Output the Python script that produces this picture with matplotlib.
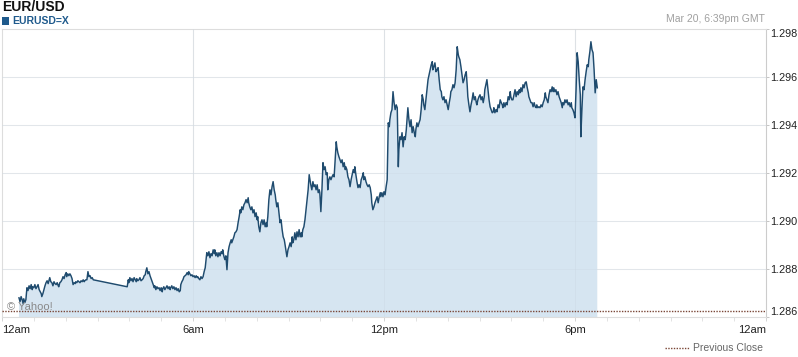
import matplotlib
matplotlib.use("Agg")
import matplotlib.pyplot as plt

plt.rcParams['font.family'] = ['Liberation Sans', 'DejaVu Sans']

title = "EUR/USD"
symbol = "EURUSD=X"
stamp = "Mar 20, 6:39pm GMT"
prev_close = 1.28626
y_ticks = [1.286, 1.288, 1.290, 1.292, 1.294, 1.296, 1.298]
y_labels = ["1.286", "1.288", "1.290", "1.292", "1.294", "1.296", "1.298"]
x_ticks = [0, 360, 720, 1080, 1440]
x_labels = ["12am", "6am", "12pm", "6pm", "12am"]

# minutes after midnight (GMT)
minutes = [
    32, 34, 36, 38, 40, 41, 43, 45, 47, 49, 51, 53, 55, 57, 58, 60, 62, 64, 66, 68,
    70, 72, 74, 75, 77, 79, 81, 83, 85, 87, 89, 90, 92, 94, 96, 98, 100, 102, 104, 106,
    107, 109, 111, 113, 115, 117, 119, 121, 122, 124, 126, 128, 130, 132, 134, 136, 138, 139, 141, 143,
    145, 147, 149, 151, 153, 155, 156, 158, 160, 162, 164, 166, 168, 170, 172,
    236, 238, 239, 241, 243, 245, 247, 249, 251, 253,
    254, 256, 258, 260, 262, 264, 266, 268, 270, 271,
    273, 275, 277, 279, 281, 283, 285, 287, 288, 290,
    292, 294, 296, 298, 300, 302, 303, 305, 307, 309,
    311, 313, 315, 317, 318, 320, 322, 324, 326, 328,
    330, 332, 334, 336, 337, 339, 341, 343, 345, 347,
    349, 351, 352, 354, 356, 358, 360, 362, 364, 366,
    368, 369, 371, 373, 375, 377, 379, 381, 383, 385,
    386, 388, 390, 392, 394, 396, 398, 400, 401, 403,
    405, 407, 409, 411, 413, 415, 416, 418, 420, 422,
    424, 426, 428, 430, 432, 433, 435, 437, 439, 441,
    443, 445, 447, 449, 450, 452, 454, 456, 458, 460,
    462, 464, 465, 467, 469, 471, 473, 475, 477, 479,
    481, 482, 484, 486, 488, 490, 492, 494, 496, 498,
    499, 501, 503, 505, 507, 509, 511, 513, 515, 516,
    518, 520, 522, 524, 526, 528, 530, 532, 533, 535,
    537, 539, 541, 543, 545, 547, 548, 550, 552, 554,
    556, 558, 560, 562, 564, 565, 567, 569, 571, 573,
    575, 577, 579, 581, 582, 584, 586, 588, 590, 592,
    594, 596, 598, 599, 601, 603, 605, 607, 609, 611,
    613, 614, 616, 618, 620, 622, 624, 626, 628, 630,
    631, 633, 635, 637, 639, 641, 643, 645, 647, 648,
    650, 652, 654, 656, 658, 660, 662, 664, 665, 667,
    669, 671, 673, 675, 677, 679, 681, 682, 684, 686,
    688, 690, 692, 694, 696, 697, 699, 701, 703, 705,
    707, 709, 711, 713, 714, 716, 718, 720, 722, 724,
    726, 728, 730, 731, 733, 735, 737, 739, 741, 743,
    745, 747, 748, 750, 752, 754, 756, 758, 760, 762,
    763, 765, 767, 769, 771, 773, 775, 777, 779, 780,
    782, 784, 786, 788, 790, 792, 794, 795, 797, 799,
    801, 803, 805, 807, 809, 811, 812, 814, 816, 818,
    820, 822, 824, 826, 828, 829, 831, 833, 835, 837,
    839, 841, 843, 845, 846, 848, 850, 852, 854, 856,
    858, 860, 861, 863, 865, 867, 869, 871, 873, 875,
    877, 878, 880, 882, 884, 886, 888, 890, 892, 894,
    895, 897, 899, 901, 903, 905, 907, 909, 910, 912,
    914, 916, 918, 920, 922, 924, 926, 927, 929, 931,
    933, 935, 937, 939, 941, 943, 944, 946, 948, 950,
    952, 954, 956, 958, 959, 961, 963, 965, 967, 969,
    971, 973, 975, 976, 978, 980, 982, 984, 986, 988,
    990, 992, 993, 995, 997, 999, 1001, 1003, 1005, 1007,
    1008, 1010, 1012, 1014, 1016, 1018, 1020, 1022, 1024, 1025,
    1027, 1029, 1031, 1033, 1035, 1037, 1039, 1040, 1042, 1044,
    1046, 1048, 1050, 1052, 1054, 1056, 1057, 1059, 1061, 1063,
    1065, 1067, 1069, 1071, 1073, 1074, 1076, 1078, 1080, 1082,
    1084, 1086, 1088, 1090, 1091, 1093, 1095, 1097, 1099, 1101,
    1103, 1105, 1106, 1108, 1110, 1112, 1114, 1116, 1118, 1120,
    1122,
]

prices = [
    1.28680, 1.28664, 1.28685, 1.28672, 1.28655, 1.28676, 1.28660, 1.28672, 1.28722, 1.28710,
    1.28730, 1.28718, 1.28735, 1.28714, 1.28726, 1.28722, 1.28735, 1.28718, 1.28726, 1.28735,
    1.28714, 1.28705, 1.28697, 1.28685, 1.28697, 1.28714, 1.28730, 1.28743, 1.28751, 1.28739,
    1.28755, 1.28764, 1.28747, 1.28743, 1.28730, 1.28747, 1.28739, 1.28735, 1.28743, 1.28730,
    1.28726, 1.28743, 1.28747, 1.28755, 1.28768, 1.28760, 1.28776, 1.28785, 1.28768, 1.28780,
    1.28772, 1.28780, 1.28772, 1.28760, 1.28735, 1.28743, 1.28739, 1.28747, 1.28743, 1.28751,
    1.28747, 1.28743, 1.28751, 1.28747, 1.28755, 1.28747, 1.28751, 1.28755, 1.28755, 1.28789,
    1.28768, 1.28772, 1.28760, 1.28764, 1.28755,
    1.28726, 1.28755, 1.28743, 1.28764, 1.28751, 1.28760, 1.28747, 1.28764, 1.28755, 1.28747,
    1.28760, 1.28751, 1.28755, 1.28764, 1.28751, 1.28755, 1.28760, 1.28772, 1.28776, 1.28789,
    1.28805, 1.28780, 1.28789, 1.28772, 1.28760, 1.28747, 1.28735, 1.28722, 1.28730, 1.28714,
    1.28726, 1.28718, 1.28722, 1.28710, 1.28722, 1.28705, 1.28718, 1.28726, 1.28714, 1.28722,
    1.28730, 1.28718, 1.28726, 1.28714, 1.28722, 1.28730, 1.28718, 1.28726, 1.28714, 1.28722,
    1.28710, 1.28718, 1.28705, 1.28710, 1.28735, 1.28747, 1.28755, 1.28768, 1.28772, 1.28776,
    1.28785, 1.28776, 1.28789, 1.28780, 1.28772, 1.28776, 1.28768, 1.28772, 1.28764, 1.28772,
    1.28764, 1.28768, 1.28760, 1.28755, 1.28768, 1.28760, 1.28768, 1.28789, 1.28805, 1.28847,
    1.28868, 1.28855, 1.28872, 1.28847, 1.28864, 1.28855, 1.28880, 1.28864, 1.28880, 1.28855,
    1.28868, 1.28851, 1.28868, 1.28855, 1.28872, 1.28864, 1.28880, 1.28855, 1.28839, 1.28855,
    1.28797, 1.28868, 1.28893, 1.28909, 1.28922, 1.28909, 1.28922, 1.28934, 1.28951, 1.28955,
    1.28964, 1.28993, 1.29018, 1.29047, 1.29034, 1.29059, 1.29047, 1.29068, 1.29076, 1.29089,
    1.29076, 1.29097, 1.29076, 1.29059, 1.29047, 1.29059, 1.29034, 1.29047, 1.29018, 1.29034,
    1.29005, 1.29018, 1.28976, 1.28955, 1.28993, 1.29005, 1.28985, 1.29005, 1.28976, 1.28993,
    1.28976, 1.29018, 1.29089, 1.29130, 1.29109, 1.29143, 1.29164, 1.29130, 1.29109, 1.29089,
    1.29059, 1.29076, 1.29034, 1.28993, 1.29005, 1.28964, 1.28934, 1.28922, 1.28909, 1.28880,
    1.28851, 1.28880, 1.28893, 1.28909, 1.28893, 1.28934, 1.28909, 1.28922, 1.28951, 1.28922,
    1.28955, 1.28934, 1.28964, 1.28934, 1.28951, 1.28934, 1.28964, 1.28976, 1.29005, 1.29047,
    1.29089, 1.29130, 1.29193, 1.29164, 1.29151, 1.29130, 1.29164, 1.29143, 1.29151, 1.29130,
    1.29151, 1.29118, 1.29130, 1.29118, 1.29039, 1.29130, 1.29243, 1.29214, 1.29226, 1.29193,
    1.29201, 1.29130, 1.29172, 1.29184, 1.29172, 1.29184, 1.29193, 1.29184, 1.29255, 1.29330,
    1.29309, 1.29284, 1.29268, 1.29255, 1.29243, 1.29255, 1.29226, 1.29243, 1.29214, 1.29226,
    1.29214, 1.29184, 1.29172, 1.29143, 1.29172, 1.29193, 1.29214, 1.29201, 1.29226, 1.29193,
    1.29164, 1.29139, 1.29151, 1.29139, 1.29172, 1.29184, 1.29201, 1.29172, 1.29184, 1.29164,
    1.29151, 1.29143, 1.29151, 1.29139, 1.29109, 1.29076, 1.29047, 1.29059, 1.29076, 1.29089,
    1.29101, 1.29076, 1.29101, 1.29118, 1.29101, 1.29118, 1.29101, 1.29122, 1.29109, 1.29143,
    1.29172, 1.29409, 1.29393, 1.29422, 1.29451, 1.29464, 1.29539, 1.29493, 1.29464, 1.29484,
    1.29472, 1.29226, 1.29297, 1.29351, 1.29339, 1.29368, 1.29309, 1.29351, 1.29339, 1.29380,
    1.29409, 1.29472, 1.29422, 1.29393, 1.29422, 1.29368, 1.29393, 1.29368, 1.29351, 1.29380,
    1.29409, 1.29393, 1.29409, 1.29422, 1.29464, 1.29526, 1.29505, 1.29484, 1.29464, 1.29505,
    1.29547, 1.29589, 1.29610, 1.29630, 1.29651, 1.29664, 1.29630, 1.29643, 1.29659, 1.29622,
    1.29630, 1.29639, 1.29589, 1.29547, 1.29539, 1.29518, 1.29505, 1.29518, 1.29493, 1.29505,
    1.29484, 1.29464, 1.29493, 1.29518, 1.29539, 1.29547, 1.29568, 1.29555, 1.29576, 1.29630,
    1.29726, 1.29693, 1.29684, 1.29672, 1.29643, 1.29610, 1.29576, 1.29589, 1.29610, 1.29622,
    1.29559, 1.29518, 1.29484, 1.29455, 1.29484, 1.29505, 1.29534, 1.29505, 1.29518, 1.29493,
    1.29484, 1.29505, 1.29518, 1.29526, 1.29505, 1.29518, 1.29493, 1.29518, 1.29547, 1.29568,
    1.29589, 1.29547, 1.29505, 1.29476, 1.29464, 1.29451, 1.29455, 1.29472, 1.29451, 1.29464,
    1.29455, 1.29484, 1.29472, 1.29505, 1.29493, 1.29484, 1.29472, 1.29493, 1.29476, 1.29493,
    1.29484, 1.29518, 1.29505, 1.29539, 1.29518, 1.29505, 1.29505, 1.29526, 1.29547, 1.29518,
    1.29539, 1.29526, 1.29547, 1.29534, 1.29555, 1.29539, 1.29568, 1.29555, 1.29576, 1.29580,
    1.29555, 1.29534, 1.29518, 1.29505, 1.29493, 1.29493, 1.29476, 1.29493, 1.29476, 1.29472,
    1.29484, 1.29472, 1.29476, 1.29472, 1.29484, 1.29476, 1.29493, 1.29505, 1.29534, 1.29518,
    1.29505, 1.29493, 1.29526, 1.29547, 1.29539, 1.29559, 1.29539, 1.29555, 1.29539, 1.29547,
    1.29526, 1.29539, 1.29518, 1.29505, 1.29493, 1.29472, 1.29493, 1.29484, 1.29505, 1.29493,
    1.29505, 1.29484, 1.29493, 1.29476, 1.29493, 1.29472, 1.29464, 1.29451, 1.29430, 1.29547,
    1.29701, 1.29664, 1.29589, 1.29526, 1.29351, 1.29464, 1.29559, 1.29547, 1.29589, 1.29622,
    1.29651, 1.29643, 1.29672, 1.29705, 1.29747, 1.29714, 1.29701, 1.29630, 1.29534, 1.29589,
    1.29555,
]

W, H = 798, 357
fig = plt.figure(figsize=(W / 100, H / 100), dpi=100)
fig.patch.set_facecolor('white')

# plot area in pixels: x 2..766, y 29..317
ax = fig.add_axes([2 / W, 1 - 317 / H, 764 / W, 288 / H])
ax.set_xlim(0, 1440)
ax.set_ylim(1.286, 1.298)

line_color = '#1f4b6e'
fill_color = '#d6e5f1'
close_color = '#7a4636'

ax.fill_between(minutes, prices, 1.280, color=fill_color, lw=0, zorder=2)
ax.plot(minutes, prices, color=line_color, lw=1.05, zorder=4)
ax.axhline(prev_close, color=close_color, lw=1.0, ls=(0, (1, 1)), zorder=5)

# grid
for yv in y_ticks[1:-1]:
    ax.axhline(yv, color='#eeeeee', lw=0.8, zorder=1)
    ax.axhline(yv, color='#cbd9e5', lw=0.6, zorder=3, alpha=0.4)
for xv in x_ticks[1:-1]:
    ax.axvline(xv, color='#e8e8e8', lw=0.8, zorder=1)
    ax.axvline(xv, color='#c9d6e2', lw=0.6, zorder=3, alpha=0.4)

for s in ['top', 'left', 'bottom']:
    ax.spines[s].set_color('#dddddd')
    ax.spines[s].set_linewidth(0.8)
ax.spines['right'].set_color('#cccccc')
ax.spines['right'].set_linewidth(0.8)

ax.yaxis.tick_right()
ax.set_yticks(y_ticks)
ax.set_yticklabels(y_labels)
ax.tick_params(axis='y', length=2.5, width=0.6, color='#bbbbbb', pad=0.6,
               labelsize=7.8, labelcolor='#222222')
ylabs = ax.get_yticklabels()
ylabs[0].set_va('bottom')
ylabs[-1].set_va('top')

ax.set_xticks(x_ticks)
ax.set_xticklabels(x_labels)
ax.set_xticks(list(range(0, 1441, 60)), minor=True)
ax.tick_params(axis='x', which='major', length=3, width=0.6, color='#cccccc',
               pad=3, labelsize=8, labelcolor='#222222')
ax.tick_params(axis='x', which='minor', length=3, width=0.6, color='#dddddd')
xlabs = ax.get_xticklabels()
xlabs[0].set_ha('left')
xlabs[-1].set_ha('right')

def fx(x):
    return x / W

def fy(y):
    return 1 - y / H

fig.text(fx(2), fy(7), title, fontsize=10, fontweight='bold', color='#111111',
         ha='left', va='center')
fig.patches.append(plt.Rectangle((fx(2), fy(25)), 7 / W, 8 / H, transform=fig.transFigure,
                                 color='#1f5a8c', lw=0))
fig.text(fx(12.5), fy(21), symbol, fontsize=7.5, fontweight='bold', color='#1f5a8c',
         ha='left', va='center')
fig.text(fx(765), fy(19), stamp, fontsize=7.5, color='#a0a0a0', ha='right', va='center')
fig.text(fx(7), fy(307), "\u00a9 Yahoo!", fontsize=8, color='#888888', ha='left', va='center')

# legend for previous close
fig.add_artist(plt.Line2D([fx(665), fx(690)], [fy(348), fy(348)], color=close_color,
                          lw=1.0, ls=(0, (1, 1)), transform=fig.transFigure))
fig.text(fx(693), fy(348), "Previous Close", fontsize=7.5, color='#666666',
         ha='left', va='center')

fig.savefig('out.png', dpi=100)
